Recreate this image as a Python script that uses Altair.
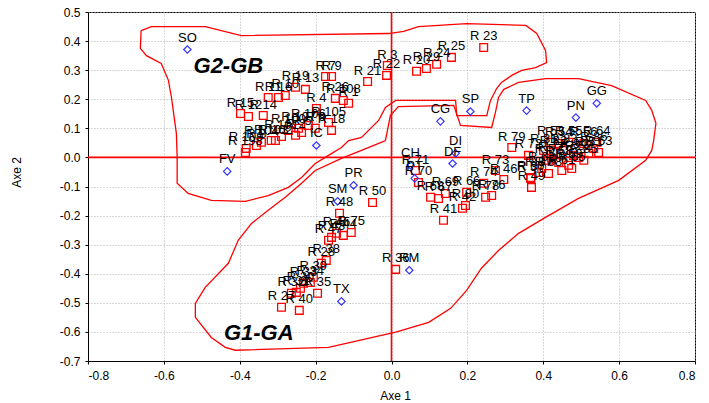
import altair as alt
import pandas as pd

# ---- red squares (observations) ----
sq_labels = ["R 23","R 25","R 24","R 29","R 20","R 3","R 22","R 21","R 7","R 9",
             "R 13","R 19","R 10","R 16","R 11","R 26","R 108","R 1","R 14","R 12",
             "R 15","R 18","R 105","R 6","R 5","R 2","R 100","R 101","R 102","R 103",
             "R 104","R 198","R 109","R 106","R 107","R 4","R 8",
             "R 79","R 72","R 53","R 54","R 55","R 56","R 64","R 63","R 57",
             "R 58","R 59","R 61","R 65","R 52","R 51","R 62","R 60","R 77","R 81",
             "R 82","R 83","R 84","R 85","R 86","R 87","R 88","R 37","R 49",
             "R 73","R 46","R 74","R 76","R 78","R 66","R 80","R 68","R 67","R 69",
             "R 70","R 71","R 41","R 42",
             "R 50","R 48","R 75","R 44","R 45","R 43","R 47","R 38","R 28","R 39",
             "R 33","R 34","R 30","R 31","R 32","R 35","R 27","R 40","R 36"]
sq_x = [0.243,0.158,0.119,0.092,0.066,-0.011,-0.013,-0.063,-0.174,-0.158,
        -0.227,-0.253,-0.280,-0.298,-0.325,-0.148,-0.127,-0.113,-0.338,-0.377,
        -0.398,-0.158,-0.166,-0.201,-0.237,-0.253,-0.272,-0.290,-0.306,-0.317,
        -0.343,-0.385,-0.383,-0.219,-0.245,-0.198,-0.356,
        0.317,0.361,0.420,0.441,0.467,0.507,0.541,0.546,0.414,
        0.441,0.467,0.449,0.475,0.493,0.520,0.396,0.367,0.422,0.401,
        0.427,0.454,0.480,0.507,0.533,0.388,0.414,0.367,0.369,
        0.274,0.296,0.243,0.264,0.248,0.198,0.195,0.103,0.124,0.142,
        0.071,0.063,0.137,0.187,
        -0.050,-0.137,-0.106,-0.127,-0.145,-0.158,-0.166,-0.172,-0.185,-0.206,
        -0.232,-0.214,-0.240,-0.251,-0.264,-0.195,-0.290,-0.243,0.011]
sq_y = [0.378,0.344,0.320,0.306,0.296,0.316,0.282,0.261,0.278,0.278,
        0.234,0.241,0.213,0.206,0.206,0.203,0.196,0.186,0.144,0.141,
        0.151,0.093,0.120,0.100,0.086,0.076,0.093,0.072,0.058,0.058,
        0.052,0.017,0.031,0.110,0.100,0.168,0.041,
        0.034,0.007,0.052,0.048,0.052,0.048,0.052,0.017,-0.010,
        -0.017,-0.027,-0.045,-0.038,0.000,0.014,-0.038,-0.069,-0.003,0.024,
        0.017,0.024,0.007,-0.010,0.031,-0.052,-0.055,-0.072,-0.103,
        -0.045,-0.076,-0.089,-0.131,-0.137,-0.120,-0.165,-0.137,-0.141,-0.124,
        -0.086,-0.045,-0.216,-0.175,
        -0.155,-0.192,-0.258,-0.268,-0.261,-0.275,-0.285,-0.354,-0.364,-0.412,
        -0.433,-0.430,-0.450,-0.464,-0.467,-0.467,-0.515,-0.526,-0.385]

# ---- blue diamonds (supplementary variables) ----
dm_labels = ["SO","FV","IC","CG","SP","TP","PN","GG","DI","DF","CH","PT","PR","SM","RM","TX"]
dm_x = [-0.538,-0.433,-0.198,0.129,0.208,0.356,0.486,0.541,0.169,0.161,0.050,0.061,-0.100,-0.142,0.047,-0.132]
dm_y = [0.371,-0.048,0.041,0.124,0.158,0.161,0.137,0.186,0.014,-0.021,-0.027,-0.072,-0.096,-0.151,-0.388,-0.495]

# ---- hand-drawn group envelopes ----
g2_x = [-0.660,-0.633,-0.491,-0.396,-0.008,0.032,0.071,0.198,0.354,0.383,0.406,0.409,0.380,0.343,
        0.317,0.290,0.277,0.261,0.251,0.172,0.169,0.011,-0.016,-0.034,-0.079,-0.113,-0.132,-0.166,
        -0.201,-0.219,-0.237,-0.272,-0.325,-0.385,-0.475,-0.536,-0.565,-0.565,-0.567,-0.580,-0.588,
        -0.607,-0.646,-0.662,-0.660]
g2_y = [0.436,0.450,0.450,0.419,0.426,0.433,0.450,0.460,0.454,0.426,0.368,0.326,0.309,0.299,
        0.282,0.258,0.237,0.196,0.144,0.144,0.196,0.196,0.172,0.127,0.069,0.058,0.034,0.007,
        -0.021,-0.045,-0.069,-0.103,-0.131,-0.151,-0.148,-0.124,-0.089,0.000,0.082,0.206,0.265,
        0.323,0.350,0.375,0.436]
g1_x = [-0.016,-0.003,0.018,0.164,0.182,0.264,0.274,0.282,0.296,0.335,0.406,0.493,0.580,0.670,
        0.686,0.697,0.691,0.686,0.670,0.599,0.493,0.406,0.335,0.282,0.237,0.198,0.156,0.098,
        0.011,-0.166,-0.412,-0.438,-0.475,-0.517,-0.517,-0.491,-0.430,-0.404,-0.369,-0.325,-0.280,
        -0.237,-0.201,-0.132,-0.079,-0.016]
g1_y = [0.058,0.144,0.175,0.179,0.110,0.103,0.155,0.206,0.234,0.258,0.271,0.271,0.247,0.196,
        0.162,0.117,0.058,0.024,-0.010,-0.079,-0.141,-0.206,-0.261,-0.320,-0.381,-0.457,-0.519,-0.567,
        -0.601,-0.653,-0.663,-0.653,-0.619,-0.550,-0.502,-0.447,-0.364,-0.285,-0.227,-0.182,-0.137,
        -0.089,-0.045,-0.003,0.024,0.058]

grp_labels = ["G2-GB", "G1-GA"]
grp_x = [-0.43, -0.35]
grp_y = [0.313, -0.605]

x_ticks = [-0.8,-0.6,-0.4,-0.2,0.0,0.2,0.4,0.6,0.8]
y_ticks = [-0.7,-0.6,-0.5,-0.4,-0.3,-0.2,-0.1,0.0,0.1,0.2,0.3,0.4,0.5]

FONT = "Liberation Sans"

sq = pd.DataFrame({"label": sq_labels, "x": sq_x, "y": sq_y})
dm = pd.DataFrame({"label": dm_labels, "x": dm_x, "y": dm_y})
env = pd.concat([
    pd.DataFrame({"g": "G2", "i": range(len(g2_x)), "x": g2_x, "y": g2_y}),
    pd.DataFrame({"g": "G1", "i": range(len(g1_x)), "x": g1_x, "y": g1_y}),
])
grp = pd.DataFrame({"label": grp_labels, "x": grp_x, "y": grp_y})

xs = alt.Scale(domain=[-0.8, 0.8], nice=False, zero=False)
ys = alt.Scale(domain=[-0.7, 0.5], nice=False, zero=False)

xax = alt.Axis(values=x_ticks, format=".1f", title="Axe 1", grid=True,
               gridColor="#b0b0b0", gridDash=[1, 2], gridWidth=1,
               labelFont=FONT, labelFontSize=12, labelColor="black", labelPadding=6,
               labelOverlap=False,
               tickColor="black", tickSize=3, domainColor="black",
               titleFont=FONT, titleFontSize=12, titleFontWeight="normal", titleColor="black",
               titleX=307, titleY=34, titleBaseline="middle",
               labelExpr="replace(datum.label, '\u2212', '-')")
yax = alt.Axis(values=y_ticks, format=".1f", title="Axe 2", grid=True,
               gridColor="#b0b0b0", gridDash=[1, 2], gridWidth=1,
               labelFont=FONT, labelFontSize=12, labelColor="black", labelPadding=5,
               labelOverlap=False,
               tickColor="black", tickSize=3, domainColor="black",
               titleFont=FONT, titleFontSize=12, titleFontWeight="normal", titleColor="black",
               titleX=-72, titleY=160, titleBaseline="middle", titleAngle=-90,
               labelExpr="replace(datum.label, '\u2212', '-')")


def X(field="x"):
    return alt.X(f"{field}:Q", scale=xs, axis=xax)


def Y(field="y"):
    return alt.Y(f"{field}:Q", scale=ys, axis=yax)


squares = alt.Chart(sq).mark_point(shape="square", size=60, filled=False,
                                    color="#ff0000", strokeWidth=1.3, opacity=1).encode(
    x=X(), y=Y())
sq_text = alt.Chart(sq).mark_text(font=FONT, fontSize=13, color="black", dy=-11,
                                  align="center").encode(x=X(), y=Y(), text="label:N")

diamonds = alt.Chart(dm).mark_point(shape="diamond", size=55, filled=False,
                                     color="#3333ff", strokeWidth=1.2, opacity=1).encode(
    x=X(), y=Y())
dm_text = alt.Chart(dm).mark_text(font=FONT, fontSize=13, color="black", dy=-12,
                                  align="center").encode(x=X(), y=Y(), text="label:N")

envelopes = alt.Chart(env).mark_line(color="#ff0000", strokeWidth=1.3).encode(
    x=X(), y=Y(), detail="g:N", order="i:Q")

zero_df = pd.DataFrame({"v": [0.0]})
vline = alt.Chart(zero_df).mark_rule(color="#ff0000", strokeWidth=1.6).encode(x=X("v"))
hline = alt.Chart(zero_df).mark_rule(color="#ff0000", strokeWidth=1.6).encode(y=Y("v"))

grp_text = alt.Chart(grp).mark_text(font=FONT, fontSize=22, fontWeight="bold",
                                    fontStyle="italic", color="black", align="center",
                                    baseline="middle").encode(
    x=X(), y=Y(), text="label:N")

chart = alt.layer(
    squares, envelopes, vline, hline, diamonds, sq_text, dm_text, grp_text
).properties(
    width=607, height=349,
    autosize=alt.AutoSizeParams(type="none"),
    padding={"left": 88, "top": 12, "right": 14, "bottom": 42},
    background="white",
).configure_view(stroke="black", strokeWidth=1)

chart.save("out.html", embed_options={"renderer": "svg", "actions": False})
